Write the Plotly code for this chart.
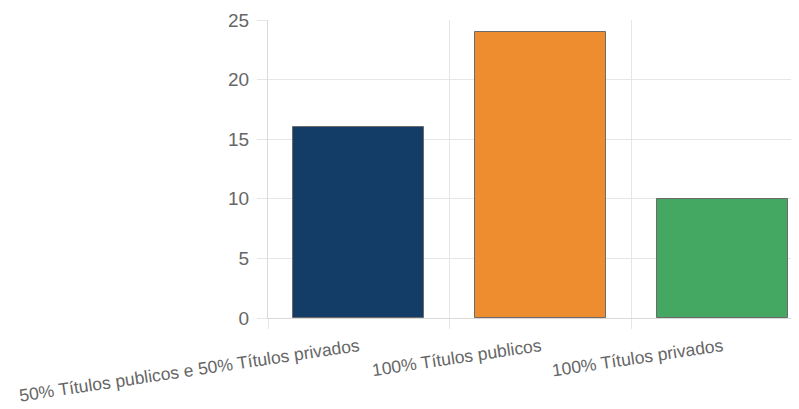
import plotly.graph_objects as go

categories = ["50% Títulos publicos e 50% Títulos privados", "100% Títulos publicos", "100% Títulos privados"]
values = [16, 24, 10]
colors = ["#133d66", "#ee8c30", "#44a862"]
y_ticks = [0, 5, 10, 15, 20, 25]

fig = go.Figure()
fig.add_trace(go.Bar(
    x=categories, y=values,
    marker=dict(color=colors, line=dict(color="#6b6b6b", width=1)),
    width=0.72,
))

grid = "#e6e6e6"
fig.update_layout(
    width=791, height=401,
    margin=dict(l=260, r=0, t=12, b=91),
    paper_bgcolor="white", plot_bgcolor="white",
    showlegend=False,
    font=dict(family="Liberation Sans, Arial, sans-serif", color="#666666"),
    bargap=0,
)
fig.update_xaxes(
    type="category", range=[-0.5, 2.42],
    tickson="boundaries", ticks="outside", ticklen=10, tickcolor=grid,
    showgrid=True, gridcolor=grid, gridwidth=1,
    showline=True, linecolor="#d9d9d9", linewidth=1,
    tickangle=-8.5, tickfont=dict(size=17.5, color="#666666"),
    ticklabelstandoff=11,
    zeroline=False,
)
fig.update_yaxes(
    range=[0, 25], tickvals=y_ticks, ticks="outside", ticklen=10, tickcolor=grid,
    showgrid=True, gridcolor=grid, gridwidth=1,
    showline=True, linecolor="#d9d9d9", linewidth=1,
    tickfont=dict(size=19, color="#666666"), zeroline=False,
    ticklabelstandoff=4,
)

fig.write_html("out.html")
